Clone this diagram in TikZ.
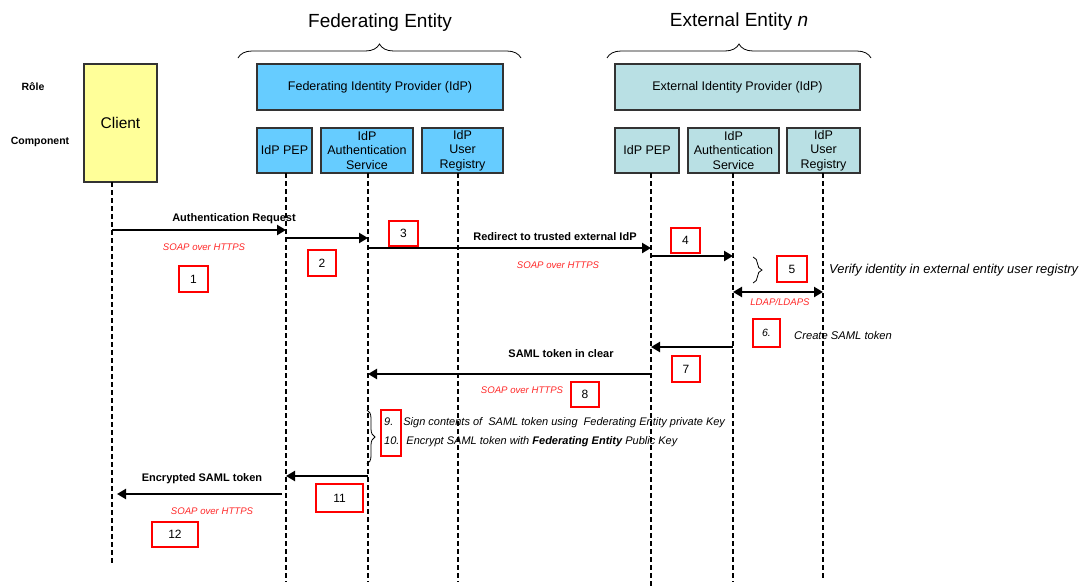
\documentclass[tikz,border=0pt]{standalone}
\usepackage{fontspec}
\setmainfont{Liberation Sans}
\usetikzlibrary{arrows.meta,decorations.pathreplacing}
\definecolor{fedblue}{RGB}{102,204,255}
\definecolor{extblue}{RGB}{185,224,228}
\definecolor{clientyel}{RGB}{255,255,153}
\definecolor{protored}{RGB}{255,40,40}
\begin{document}
\begin{tikzpicture}[x=1pt,y=-1pt,
  ent/.style={draw=black!80, line width=1.1pt, inner sep=0pt, align=center, font=\fontsize{12.5}{14.5}\selectfont},
  fed/.style={ent, fill=fedblue},
  ext/.style={ent, fill=extblue},
  numbox/.style={draw=red, line width=1.1pt, inner sep=0pt, font=\fontsize{12}{14}\selectfont},
  msglbl/.style={font=\bfseries\fontsize{11}{13}\selectfont, inner sep=0pt},
  proto/.style={text=protored, font=\itshape\fontsize{9.6}{11}\selectfont, inner sep=0pt},
  note/.style={font=\itshape\fontsize{11}{13}\selectfont, inner sep=0pt, anchor=west},
  life/.style={line width=2pt, dash pattern=on 5pt off 3pt},
  msg/.style={line width=2.8pt, -{Triangle[length=9pt,width=10pt]}},
  dmsg/.style={line width=2.8pt, {Triangle[length=9pt,width=10pt]}-{Triangle[length=9pt,width=10pt]}},
  brc/.style={decorate, line width=0.8pt},
  rowlbl/.style={font=\bfseries\fontsize{10.5}{12}\selectfont, inner sep=0pt}]
\useasboundingbox (0,0) rectangle (1082,587);

% titles and braces
\node[font=\fontsize{19}{22}\selectfont, inner sep=0pt] (tfed) at (380,23) {Federating Entity};
\node[font=\fontsize{19}{22}\selectfont, inner sep=0pt] (text) at (739,22) {External Entity \textit{n}};
\draw[brc, decoration={brace, amplitude=14pt}] (238,58) -- (521,58);
\draw[brc, decoration={brace, amplitude=14pt}] (607,58) -- (871,58);

% row labels
\node[rowlbl] (role) at (33,87) {Rôle};
\node[rowlbl] (comp) at (40,142) {Component};

% client
\node[ent, fill=clientyel, minimum width=73pt, minimum height=118pt] (cl) at (120.5,123) {};
\node[font=\fontsize{15.5}{17}\selectfont, inner sep=0pt] (cltxt) at (120.5,123) {Client};

% federating entity
\node[fed, minimum width=246pt, minimum height=46pt] (fidp) at (380,87) {Federating Identity Provider (IdP)};
\node[fed, minimum width=55pt, minimum height=45pt] (fpep) at (284.5,150.5) {IdP PEP};
\node[fed, minimum width=92pt, minimum height=45pt] (fauth) at (367,150.5) {IdP\\Authentication\\Service};
\node[fed, minimum width=81pt, minimum height=45pt] (freg) at (462.5,150.5) {IdP\\User\\Registry};

% external entity
\node[ext, minimum width=245pt, minimum height=46pt] (eidp) at (737.5,87) {External Identity Provider (IdP)};
\node[ext, minimum width=64pt, minimum height=45pt] (epep) at (647,150.5) {IdP PEP};
\node[ext, minimum width=91pt, minimum height=45pt] (eauth) at (733.5,150.5) {IdP\\Authentication\\Service};
\node[ext, minimum width=73pt, minimum height=45pt] (ereg) at (823.5,150.5) {IdP\\User\\Registry};

% lifelines
\coordinate (lcl) at (112,182);
\coordinate (lpep) at (286,173);
\coordinate (lauth) at (368,173);
\coordinate (lreg) at (458,173);
\coordinate (lepep) at (651,173);
\coordinate (leauth) at (733,173);
\coordinate (lereg) at (823,173);
\coordinate (bcl) at (112,565);
\coordinate (bpep) at (286,582);
\coordinate (bauth) at (368,582);
\coordinate (breg) at (458,582);
\coordinate (bepep) at (651,587);
\coordinate (beauth) at (733,582);
\coordinate (bereg) at (823,580);
\draw[life] (lcl) -- (bcl);
\draw[life] (lpep) -- (bpep);
\draw[life] (lauth) -- (bauth);
\draw[life] (lreg) -- (breg);
\draw[life] (lepep) -- (bepep);
\draw[life] (leauth) -- (beauth);
\draw[life] (lereg) -- (bereg);

% 1
\draw[msg] (lcl |- 0,230) -- (lpep |- 0,230);
\node[msglbl] (l1) at (234,219) {Authentication Request};
\node[proto] (p1) at (204,247) {SOAP over HTTPS};
\node[numbox, minimum width=29pt, minimum height=26pt] (n1) at (193.5,279) {1};
% 2
\draw[msg] (lpep |- 0,238) -- (lauth |- 0,238);
\node[numbox, minimum width=28pt, minimum height=26pt] (n2) at (322,263) {2};
% 3
\draw[msg] (lauth |- 0,248) -- (lepep |- 0,248);
\node[numbox, minimum width=29pt, minimum height=25pt] (n3) at (403.5,233.5) {3};
\node[msglbl] (l3) at (555,237) {Redirect to trusted external IdP};
\node[proto] (p3) at (558,265) {SOAP over HTTPS};
% 4
\draw[msg] (lepep |- 0,256) -- (leauth |- 0,256);
\node[numbox, minimum width=29pt, minimum height=25pt] (n4) at (685.5,240.5) {4};
% 5
\draw[brc, decoration={brace, amplitude=9pt}] (753,257) -- (753,283);
\node[numbox, minimum width=30pt, minimum height=26pt] (n5) at (792,269) {5};
\node[note, font=\itshape\fontsize{12.9}{14}\selectfont] (t5) at (829,270) {Verify identity in external entity user registry};
\draw[dmsg] (leauth |- 0,292) -- (lereg |- 0,292);
\node[proto] (p5) at (780,302) {LDAP/LDAPS};
% 6
\node[numbox, minimum width=27pt, minimum height=28pt, font=\itshape\fontsize{10.5}{12}\selectfont] (n6) at (766.5,333) {6.};
\node[note, font=\itshape\fontsize{11.2}{13}\selectfont] (t6) at (794,335) {Create SAML token};
% 7
\draw[msg] (leauth |- 0,347) -- (lepep |- 0,347);
\node[numbox, minimum width=28pt, minimum height=26pt] (n7) at (686,369) {7};
% 8
\draw[msg] (lepep |- 0,374) -- (lauth |- 0,374);
\node[msglbl] (l8) at (561,354) {SAML token in clear};
\node[proto] (p8) at (522,390) {SOAP over HTTPS};
\node[numbox, minimum width=28pt, minimum height=25pt] (n8) at (585,394.5) {8};
% 9 and 10
\draw[brc, decoration={brace, amplitude=8pt}] (367,410) -- (367,464);
\node[draw=red, line width=1.1pt, minimum width=20pt, minimum height=46pt, inner sep=0pt] (n910) at (391,433) {};
\node[note] (t9) at (384,423) {9.\hspace{10pt}Sign contents of\ \ SAML token using\ \ Federating Entity private Key};
\node[note] (t10) at (384,442) {10.\hspace{7pt}Encrypt SAML token with \textbf{Federating Entity} Public Key};
% 11
\draw[msg] (lauth |- 0,476) -- (lpep |- 0,476);
\node[numbox, minimum width=47pt, minimum height=28pt] (n11) at (339.5,498) {11};
% 12
\draw[msg] ([xshift=-4pt]lpep |- 0,494) -- ([xshift=5pt]lcl |- 0,494);
\node[msglbl] (l12) at (202,479) {Encrypted SAML token};
\node[proto] (p12) at (212,511) {SOAP over HTTPS};
\node[numbox, minimum width=46pt, minimum height=25pt] (n12) at (175,534.5) {12};
\end{tikzpicture}
\end{document}
